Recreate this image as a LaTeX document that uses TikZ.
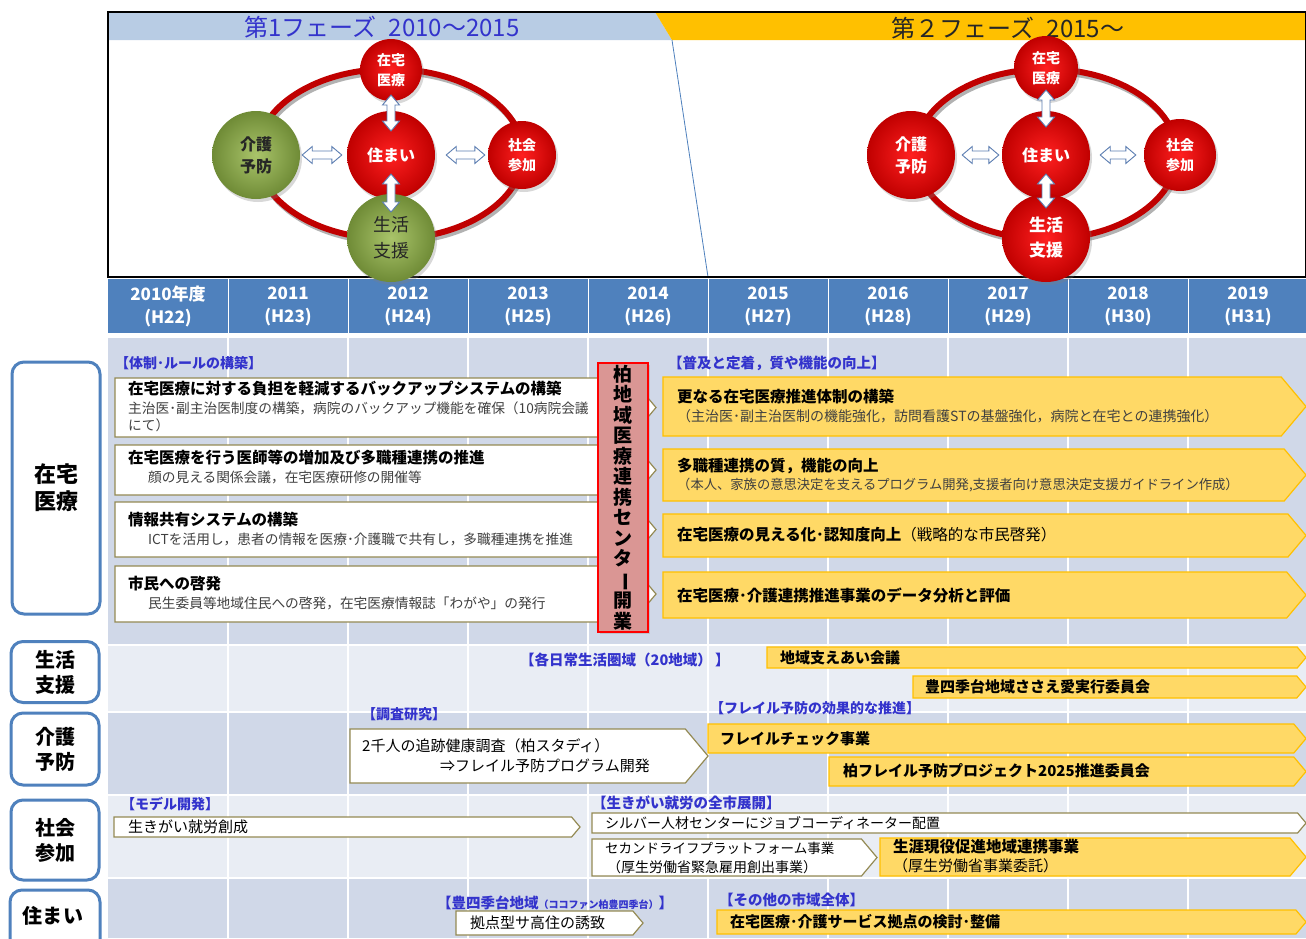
\documentclass[tikz,border=0pt]{standalone}
\usepackage{fontspec}
\usepackage{graphicx}
\setmainfont{Noto Sans CJK JP}
\usetikzlibrary{calc,shadows}
\definecolor{hdr}{HTML}{4F81BD}
\definecolor{bandA}{HTML}{D0D8E8}
\definecolor{bandB}{HTML}{E9EDF4}
\definecolor{lblue}{HTML}{3333CC}
\definecolor{wbord}{HTML}{948A54}
\definecolor{yfill}{HTML}{FFD966}
\definecolor{ybord}{HTML}{FFC000}
\definecolor{rfill}{HTML}{DA9694}
\definecolor{phaseA}{HTML}{B8CCE4}
\definecolor{phaseB}{HTML}{FFC000}
\definecolor{ringred}{HTML}{C00000}
\definecolor{rin}{HTML}{FF2020}
\definecolor{rout}{HTML}{C00000}
\definecolor{gin}{HTML}{A9C46A}
\definecolor{gout}{HTML}{6F8B36}
\definecolor{subgray}{HTML}{404040}
\definecolor{arrb}{HTML}{5B7DB1}
\tikzset{
  wbox/.style={draw=wbord, fill=white, line width=1.2pt},
  ybox/.style={draw=ybord, fill=yfill, line width=1.2pt},
  lbl/.style={anchor=west, inner sep=0, text=lblue, font=\bfseries\fontsize{14}{14}\selectfont},
  ttl/.style={anchor=west, inner sep=0, font=\bfseries\fontsize{15.5}{15.5}\selectfont},
  subt/.style={anchor=west, inner sep=0, text=subgray, font=\fontsize{13.7}{13.7}\selectfont},
  txt/.style={anchor=west, inner sep=0, font=\fontsize{15}{15}\selectfont},
  txb/.style={anchor=west, inner sep=0, font=\bfseries\fontsize{15}{15}\selectfont},
  side/.style={draw=hdr, line width=3pt, rounded corners=12pt, fill=white, align=center, font=\bfseries\fontsize{22}{27}\selectfont},
  yr/.style={text=white, align=center, font=\bfseries\fontsize{17}{23}\selectfont},
  ballr/.style={circle, inner sep=0, minimum size=#1, inner color=rin, outer color=rout,
    drop shadow={opacity=0.3,shadow xshift=2pt,shadow yshift=-3pt},
    text=white, align=center, font=\bfseries\fontsize{14}{20}\selectfont},
  ballg/.style={ballr=#1, inner color=gin, outer color=gout, text=black!85},
  dbla/.style={draw=arrb, fill=white, line width=0.9pt, line join=miter},
  ring/.style={ringred, line width=6pt},
  ringsh/.style={black!30, line width=6pt},
}
\newcommand{\abox}[5]{%
  \pgfmathsetmacro{\abd}{0.42*(#5-#3)}%
  \pgfmathsetmacro{\abm}{(#3+#5)/2}%
  \draw[#1] (#2,#3) -- ({#4-\abd},#3) -- (#4,\abm) -- ({#4-\abd},#5) -- (#2,#5) -- cycle;}
\newcommand{\hdbl}[2]{\draw[dbla] let \p1=#1, \p2=#2 in
  (\x1,\y1) -- (\x1+10pt,\y1+8.5pt) -- (\x1+10pt,\y1+4pt) -- (\x2-10pt,\y1+4pt) -- (\x2-10pt,\y1+8.5pt) -- (\x2,\y1)
  -- (\x2-10pt,\y1-8.5pt) -- (\x2-10pt,\y1-4pt) -- (\x1+10pt,\y1-4pt) -- (\x1+10pt,\y1-8.5pt) -- cycle;}
\newcommand{\vdbl}[2]{\draw[dbla] let \p1=#1, \p2=#2 in
  (\x1,\y1) -- (\x1+8.5pt,\y1-10pt) -- (\x1+4pt,\y1-10pt) -- (\x1+4pt,\y2+10pt) -- (\x1+8.5pt,\y2+10pt) -- (\x1,\y2)
  -- (\x1-8.5pt,\y2+10pt) -- (\x1-4pt,\y2+10pt) -- (\x1-4pt,\y1-10pt) -- (\x1-8.5pt,\y1-10pt) -- cycle;}
\begin{document}
\begin{tikzpicture}[x=1pt,y=-1pt]
\useasboundingbox (0,0) rectangle (1306,938);
\fill[white] (0,0) rectangle (1306,938);
\clip (0,0) rectangle (1306,938);

% ---------- top phase box ----------
\fill[phaseA] (108,12) -- (655,12) -- (672,40) -- (108,40) -- cycle;
\fill[phaseB] (655,12) -- (1306,12) -- (1306,40) -- (672,40) -- cycle;
\draw[hdr, line width=0.8pt] (672,40) -- (708,277);
\draw[black, line width=1.2pt] (108,12) rectangle (1306,277);
\node[text=lblue, font=\fontsize{24}{24}\selectfont] (P1) at (382,27) {第1フェーズ\enspace 2010～2015};
\node[text=black!85, font=\fontsize{24}{24}\selectfont] (P2) at (1008,28) {第２フェーズ\enspace 2015～};

% ---------- year header ----------
\fill[hdr] (108,279) rectangle (1306,333);
\foreach \i in {1,...,9} \draw[white, line width=1pt] ({108+120*\i},279) -- ({108+120*\i},333);
\foreach \i/\a/\b in {0/2010年度/H22,1/2011/H23,2/2012/H24,3/2013/H25,4/2014/H26,5/2015/H27,6/2016/H28,7/2017/H29,8/2018/H30,9/2019/H31}
  \node[yr] (Y\i) at ({168+120*\i},306) {\a\\(\b)};

% ---------- phase 1 diagram ----------
\draw[ringsh] (392,157) ellipse [x radius=133, y radius=85];
\draw[ring] (390,154) ellipse [x radius=133, y radius=85];
\node[ballr=62] (T1) at (391,70) {在宅\\医療};
\node[ballg=88, font=\bfseries\fontsize{16}{22}\selectfont] (K1) at (256,155) {介護\\予防};
\node[ballr=88, font=\bfseries\fontsize{16}{20}\selectfont] (C1) at (391,155) {住まい};
\node[ballr=68] (S1) at (522,155) {社会\\参加};
\node[ballg=88, font=\fontsize{18}{26}\selectfont] (B1) at (391,238) {生活\\支援};
\hdbl{($(K1.east)+(2,0)$)}{($(C1.west)+(-5,0)$)}
\hdbl{($(C1.east)+(11,0)$)}{($(S1.west)+(-3,0)$)}
\vdbl{($(T1.center)+(0,25)$)}{($(C1.center)+(0,-24)$)}
\vdbl{($(C1.center)+(0,19)$)}{($(B1.center)+(0,-26)$)}

% ---------- phase 2 diagram ----------
\draw[ringsh] (1048,157) ellipse [x radius=131, y radius=85];
\draw[ring] (1046,154) ellipse [x radius=131, y radius=85];
\node[ballr=64] (T2) at (1046,68) {在宅\\医療};
\node[ballr=88, font=\bfseries\fontsize{16}{22}\selectfont] (K2) at (911,155) {介護\\予防};
\node[ballr=88, font=\bfseries\fontsize{16}{20}\selectfont] (C2) at (1046,155) {住まい};
\node[ballr=72] (S2) at (1180,155) {社会\\参加};
\node[ballr=88, font=\bfseries\fontsize{17}{25}\selectfont] (B2) at (1046,238) {生活\\支援};
\hdbl{($(K2.east)+(7,0)$)}{($(C2.west)+(-3,0)$)}
\hdbl{($(C2.east)+(10,0)$)}{($(S2.west)+(-8,0)$)}
\vdbl{($(T2.center)+(0,22)$)}{($(C2.center)+(0,-28)$)}
\vdbl{($(C2.center)+(0,19)$)}{($(B2.center)+(0,-30)$)}

% ---------- body background ----------
\fill[bandA] (108,338) rectangle (1306,645);
\fill[bandB] (108,645) rectangle (1306,712);
\fill[bandA] (108,712) rectangle (1306,795);
\fill[bandB] (108,795) rectangle (1306,878);
\fill[bandA] (108,878) rectangle (1306,938);
\foreach \yy in {645,712,795,878} \draw[white, line width=2pt] (108,\yy) -- (1306,\yy);
\foreach \i in {1,...,9} \draw[white, line width=2pt] ({108+120*\i},338) -- ({108+120*\i},938);

% ---------- side labels ----------
\node[side, minimum width=88, minimum height=252] (LZ) at (56,488) {在宅\\医療};
\node[side, minimum width=88, minimum height=61, font=\bfseries\fontsize{20}{25}\selectfont] (LS) at (55,672) {生活\\支援};
\node[side, minimum width=88, minimum height=72, font=\bfseries\fontsize{20}{25}\selectfont] (LK) at (55,749) {介護\\予防};
\node[side, minimum width=88, minimum height=80, font=\bfseries\fontsize{20}{25}\selectfont] (LC) at (55,840) {社会\\参加};
\draw[hdr, line width=3pt, rounded corners=12pt, fill=white] (10,960) -- (10,890) -- (100,890) -- (100,960);
\node[font=\bfseries\fontsize{20}{20}\selectfont] (LJ) at (53,916) {住まい};

% ---------- 在宅医療 ----------
\node[lbl] (h1) at (115,363) {【体制･ルールの構築】};
\abox{wbox}{115}{378}{656}{437}
\abox{wbox}{115}{445}{656}{495}
\abox{wbox}{115}{502}{656}{557}
\abox{wbox}{115}{566}{656}{622}
\node[ttl] (a1) at (128,389) {在宅医療に対する負担を軽減するバックアップシステムの構築};
\node[subt] (a1s) at (128,408) {主治医･副主治医制度の構築，病院のバックアップ機能を確保（10病院会議};
\node[subt] (a1t) at (128,425) {にて）};
\node[ttl] (a2) at (128,458) {在宅医療を行う医師等の増加及び多職種連携の推進};
\node[subt] (a2s) at (148,477) {顔の見える関係会議，在宅医療研修の開催等};
\node[ttl] (a3) at (128,520) {情報共有システムの構築};
\node[subt] (a3s) at (148,539) {ICTを活用し，患者の情報を医療･介護職で共有し，多職種連携を推進};
\node[ttl] (a4) at (128,584) {市民への啓発};
\node[subt] (a4s) at (148,603) {民生委員等地域住民への啓発，在宅医療情報誌「わがや」の発行};

\node[draw=red, fill=rfill, line width=2pt, minimum width=50, minimum height=269, inner sep=0,
  drop shadow={opacity=0.25,shadow xshift=2pt,shadow yshift=-2pt},
  align=center, font=\bfseries\fontsize{19}{20.5}\selectfont] (RC) at (623,497.5)
  {柏\\地\\域\\医\\療\\連\\携\\セ\\ン\\タ\\\rotatebox[origin=c]{-90}{ー}\\開\\業};

\node[lbl, font=\bfseries\fontsize{14.5}{14.5}\selectfont] (h2) at (668,363) {【普及と定着，質や機能の向上】};
\abox{ybox}{663}{377}{1306}{436}
\abox{ybox}{663}{449}{1306}{501}
\abox{ybox}{663}{514}{1306}{557}
\abox{ybox}{663}{572}{1306}{618}
\node[ttl] (b1) at (677,397) {更なる在宅医療推進体制の構築};
\node[subt, font=\fontsize{14}{14}\selectfont] (b1s) at (677,416) {（主治医･副主治医制の機能強化，訪問看護STの基盤強化，病院と在宅との連携強化）};
\node[subt, font=\fontsize{13.3}{13.3}\selectfont] (b2s) at (677,485) {（本人、家族の意思決定を支えるプログラム開発,支援者向け意思決定支援ガイドライン作成）};
\node[ttl] (b2) at (677,466) {多職種連携の質，機能の向上};
\node[ttl] (b3) at (677,535) {在宅医療の見える化･認知度向上\mdseries（戦略的な市民啓発）};
\node[ttl] (b4) at (677,595) {在宅医療･介護連携推進事業のデータ分析と評価};

% ---------- 生活支援 ----------
\node[lbl, font=\bfseries\fontsize{14.5}{14.5}\selectfont] (h3) at (520,660) {【各日常生活圏域（20地域） 】};
\abox{ybox}{767}{647}{1306}{668}
\abox{ybox}{913}{676}{1306}{698}
\node[txb] (c1) at (780,657.5) {地域支えあい会議};
\node[txb] (c2) at (925,687) {豊四季台地域ささえ愛実行委員会};

% ---------- 介護予防 ----------
\node[lbl] (h4) at (362,714) {【調査研究】};
\abox{wbox}{350}{729}{708}{783}
\node[txt] (d1) at (362,746) {2千人の追跡健康調査（柏スタディ）};
\node[txt] (d2) at (440,766) {⇒フレイル予防プログラム開発};
\node[lbl] (h5) at (710,708) {【フレイル予防の効果的な推進】};
\abox{ybox}{708}{724}{1306}{753}
\abox{ybox}{829}{757}{1306}{786}
\node[txb] (e1) at (720,738.5) {フレイルチェック事業};
\node[txb] (e2) at (843,771) {柏フレイル予防プロジェクト2025推進委員会};

% ---------- 社会参加 ----------
\node[lbl] (h6) at (121,804) {【モデル開発】};
\abox{wbox}{114}{817}{580}{837}
\node[txt] (f1) at (128,827) {生きがい就労創成};
\node[lbl, font=\bfseries\fontsize{14.5}{14.5}\selectfont] (h7) at (592,803) {【生きがい就労の全市展開】};
\abox{wbox}{592}{813}{1306}{833}
\node[txt, font=\fontsize{14}{14}\selectfont] (f2) at (605,823) {シルバー人材センターにジョブコーディネーター配置};
\abox{wbox}{592}{839}{877}{876}
\node[txt, font=\fontsize{13.5}{13.5}\selectfont] (f3) at (605,848) {セカンドライフプラットフォーム事業};
\node[txt, font=\fontsize{14}{14}\selectfont] (f4) at (607,867) {（厚生労働省緊急雇用創出事業）};
\abox{ybox}{880}{838}{1306}{876}
\node[ttl] (f5) at (893,847) {生涯現役促進地域連携事業};
\node[txt] (f6) at (893,866) {（厚生労働省事業委託）};

% ---------- 住まい ----------
\node[lbl, font=\bfseries\fontsize{14.5}{14.5}\selectfont] (h8) at (437,903) {【豊四季台地域{\fontsize{10}{10}\selectfont（ココファン柏豊四季台）}】};
\abox{wbox}{456}{911}{643}{935}
\node[txt] (g1) at (470,923) {拠点型サ高住の誘致};
\node[lbl, font=\bfseries\fontsize{14.5}{14.5}\selectfont] (h9) at (719,900) {【その他の市域全体】};
\abox{ybox}{717}{910}{1306}{934}
\node[txb] (g2) at (730,922) {在宅医療･介護サービス拠点の検討･整備};
\end{tikzpicture}
\end{document}
